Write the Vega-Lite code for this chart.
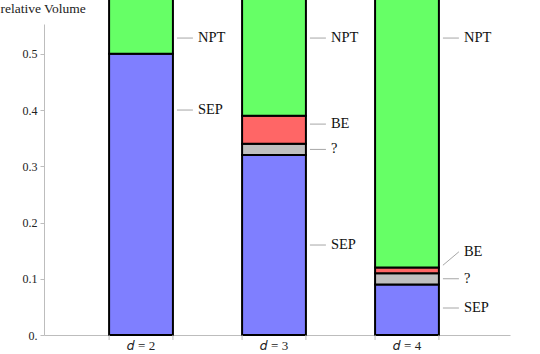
{
  "$schema": "https://vega.github.io/schema/vega-lite/v6.json",
  "autosize": "none",
  "width": 466,
  "height": 311,
  "padding": {"left": 44, "top": 24, "right": 30, "bottom": 19},
  "background": "white",
  "config": {"view": {"stroke": null}, "font": "Liberation Serif"},
  "datasets": {
    "parts": [
      {"d": "2", "part": "SEP", "rank": 1, "value": 0.5},
      {"d": "2", "part": "NPT", "rank": 4, "value": 0.5},
      {"d": "3", "part": "SEP", "rank": 1, "value": 0.32},
      {"d": "3", "part": "?", "rank": 2, "value": 0.02},
      {"d": "3", "part": "BE", "rank": 3, "value": 0.05},
      {"d": "3", "part": "NPT", "rank": 4, "value": 0.61},
      {"d": "4", "part": "SEP", "rank": 1, "value": 0.09},
      {"d": "4", "part": "?", "rank": 2, "value": 0.02},
      {"d": "4", "part": "BE", "rank": 3, "value": 0.01},
      {"d": "4", "part": "NPT", "rank": 4, "value": 0.88}
    ],
    "dvals": [{"d": "2"}, {"d": "3"}, {"d": "4"}],
    "labels": [
      {"d": "2", "label": "NPT", "from": 0.528, "at": 0.528},
      {"d": "2", "label": "SEP", "from": 0.40, "at": 0.40},
      {"d": "3", "label": "NPT", "from": 0.528, "at": 0.528},
      {"d": "3", "label": "BE", "from": 0.375, "at": 0.375},
      {"d": "3", "label": "?", "from": 0.33, "at": 0.33},
      {"d": "3", "label": "SEP", "from": 0.16, "at": 0.16},
      {"d": "4", "label": "NPT", "from": 0.528, "at": 0.528},
      {"d": "4", "label": "BE", "from": 0.124, "at": 0.148},
      {"d": "4", "label": "?", "from": 0.10, "at": 0.10},
      {"d": "4", "label": "SEP", "from": 0.048, "at": 0.048}
    ]
  },
  "encoding": {
    "x": {
      "field": "d",
      "type": "nominal",
      "scale": {"paddingInner": 0.52, "paddingOuter": 0.512, "align": 0.478},
      "axis": {
        "title": null,
        "labelAngle": 0,
        "labelExpr": "'𝑑 = ' + datum.label",
        "labelFont": "Liberation Serif",
        "labelFontSize": 13,
        "labelColor": "#222",
        "labelPadding": 4,
        "ticks": false,
        "domainColor": "#bdbdbd",
        "domainWidth": 1
      }
    }
  },
  "layer": [
    {
      "data": {"name": "parts"},
      "mark": {"type": "bar", "stroke": "black", "strokeWidth": 2},
      "encoding": {
        "y": {
          "field": "value",
          "type": "quantitative",
          "stack": "zero",
          "scale": {"domain": [0, 0.553], "nice": false, "zero": true},
          "axis": {
            "title": "relative Volume",
            "titleAngle": 0,
            "titleAlign": "left",
            "titleBaseline": "middle",
            "titleX": -44,
            "titleY": -16,
            "titleFont": "Liberation Serif",
            "titleFontSize": 13.5,
            "titleFontWeight": "normal",
            "titleColor": "#222",
            "values": [0, 0.1, 0.2, 0.3, 0.4, 0.5],
            "labelExpr": "datum.value == 0 ? '0.' : format(datum.value, '.1f')",
            "labelFont": "Liberation Serif",
            "labelFontSize": 12,
            "labelColor": "#222",
            "labelPadding": 3,
            "tickSize": 4,
            "tickColor": "#bdbdbd",
            "domainColor": "#bdbdbd",
            "grid": false
          }
        },
        "order": {"field": "rank", "type": "quantitative"},
        "color": {
          "field": "part",
          "type": "nominal",
          "scale": {
            "domain": ["SEP", "?", "BE", "NPT"],
            "range": ["#7f7fff", "#bfbfbf", "#ff6666", "#66ff66"]
          },
          "legend": null
        }
      }
    },
    {
      "data": {"name": "dvals"},
      "mark": {"type": "rule", "color": "#bdbdbd", "strokeWidth": 1, "y2Offset": 5},
      "encoding": {
        "x": {"field": "d", "type": "nominal", "bandPosition": 0},
        "y": {"datum": 0},
        "y2": {"datum": 0}
      }
    },
    {
      "data": {"name": "dvals"},
      "mark": {"type": "rule", "color": "#bdbdbd", "strokeWidth": 1, "y2Offset": 5},
      "encoding": {
        "x": {"field": "d", "type": "nominal", "bandPosition": 1},
        "y": {"datum": 0},
        "y2": {"datum": 0}
      }
    },
    {
      "data": {"name": "labels"},
      "mark": {"type": "rule", "color": "#a6a6a6", "strokeWidth": 1, "xOffset": 4, "x2Offset": 20},
      "encoding": {
        "x": {"field": "d", "type": "nominal", "bandPosition": 1},
        "x2": {"field": "d", "bandPosition": 1},
        "y": {"field": "from", "type": "quantitative"},
        "y2": {"field": "at"}
      }
    },
    {
      "data": {"name": "labels"},
      "mark": {"type": "text", "align": "left", "baseline": "middle", "dx": 25, "font": "Liberation Serif", "fontSize": 14.5, "color": "#111"},
      "encoding": {
        "x": {"field": "d", "type": "nominal", "bandPosition": 1},
        "y": {"field": "at", "type": "quantitative"},
        "text": {"field": "label"}
      }
    }
  ]
}
